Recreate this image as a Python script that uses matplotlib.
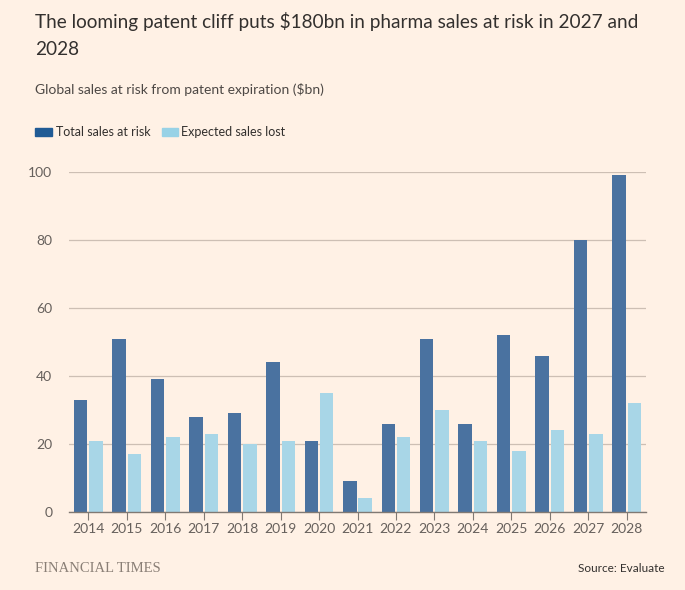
import matplotlib.pyplot as plt
import numpy as np

years = ['2014', '2015', '2016', '2017', '2018', '2019', '2020', '2021',
         '2022', '2023', '2024', '2025', '2026', '2027', '2028']
total_at_risk = [33, 51, 39, 28, 29, 44, 21, 9, 26, 51, 26, 52, 46, 80, 99]
expected_lost = [21, 17, 22, 23, 20, 21, 35, 4, 22, 30, 21, 18, 24, 23, 32]
y_ticks = [0, 20, 40, 60, 80, 100]

bg = '#fff1e5'
dark = '#4a72a0'
light = '#a8d6e7'
text_col = '#33302e'
tick_col = '#66605c'

plt.rcParams['font.family'] = ['Lato', 'DejaVu Sans']

fig = plt.figure(figsize=(6.85, 5.9), dpi=100, facecolor=bg)
ax = fig.add_axes([69 / 685, (590 - 512) / 590, 577 / 685, 340 / 590])
ax.set_facecolor(bg)

x = np.arange(len(years))
ax.bar(x - 0.2, total_at_risk, width=0.35, color=dark, zorder=3)
ax.bar(x + 0.2, expected_lost, width=0.35, color=light, zorder=3)

ax.set_xlim(-0.5, len(years) - 0.5)
ax.set_ylim(0, 100)
ax.set_yticks(y_ticks)
ax.set_xticks(x)
ax.set_xticklabels(years)
ax.grid(axis='y', color='#cdbfb4', linewidth=0.9, zorder=0)
for s in ['top', 'right', 'left']:
    ax.spines[s].set_visible(False)
ax.spines['bottom'].set_color('#807973')
ax.spines['bottom'].set_linewidth(1)
ax.spines['bottom'].set_zorder(4)
ax.tick_params(axis='y', length=0, pad=12, labelsize=10, labelcolor=tick_col)
ax.tick_params(axis='x', length=6, color='#807973', pad=2, labelsize=10,
               labelcolor=tick_col)

# title, two lines
fig.text(35 / 685, 1 - 28 / 590,
         'The looming patent cliff puts $180bn in pharma sales at risk in 2027 and',
         fontsize=13.7, color=text_col, va='baseline')
fig.text(35 / 685, 1 - 55 / 590, '2028', fontsize=13.7, color=text_col,
         va='baseline')
fig.text(35 / 685, 1 - 94 / 590, 'Global sales at risk from patent expiration ($bn)',
         fontsize=10, color='#4d4845', va='baseline')

# legend swatches
fig.patches.append(plt.Rectangle((35 / 685, 1 - 136 / 590), 17 / 685, 8 / 590,
                                 transform=fig.transFigure, color='#205b95'))
fig.text(56 / 685, 1 - 132 / 590, 'Total sales at risk', fontsize=9,
         color=text_col, va='center')
fig.patches.append(plt.Rectangle((162 / 685, 1 - 136 / 590), 16 / 685, 8 / 590,
                                 transform=fig.transFigure, color='#98d2e6'))
fig.text(181 / 685, 1 - 132 / 590, 'Expected sales lost', fontsize=9,
         color=text_col, va='center')

fig.text(35 / 685, 1 - 569 / 590, 'FINANCIAL TIMES', fontsize=10.5,
         family=['Liberation Serif', 'DejaVu Serif'], color='#8a7f76', va='center')
fig.text(665 / 685, 1 - 569 / 590, 'Source: Evaluate', fontsize=8.5,
         color=text_col, va='center', ha='right')

fig.savefig('out.png', dpi=100, facecolor=bg)
